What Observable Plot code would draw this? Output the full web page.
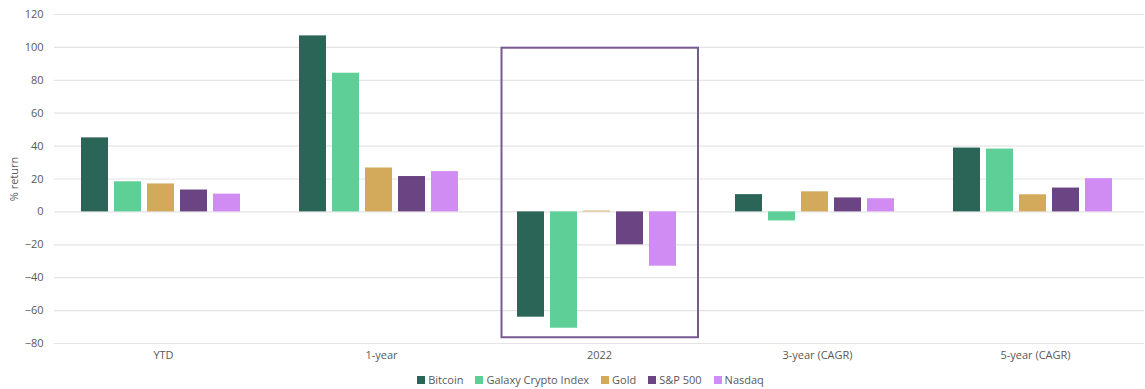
<!DOCTYPE html>
<html>
<head>
<meta charset="utf-8">
<script src="https://cdn.jsdelivr.net/npm/d3@7"></script>
<script src="https://cdn.jsdelivr.net/npm/@observablehq/plot@0.6"></script>
<style>
  html, body { margin: 0; padding: 0; background: #ffffff; }
  body { width: 1145px; height: 389px; overflow: hidden; font-family: "Open Sans", "Noto Sans", sans-serif; }
  #legend { display: flex; justify-content: center; gap: 12px; margin-left: 36px; margin-top: 7px;
            font-size: 11px; color: #595959; line-height: 14px; }
  #legend .item { display: flex; align-items: center; gap: 3px; }
  #legend .sw { width: 8px; height: 8px; display: inline-block; }
</style>
</head>
<body>
<div id="chart"></div>
<div id="legend"></div>
<script>
// Return periods and assets
const periods = ["YTD", "1-year", "2022", "3-year (CAGR)", "5-year (CAGR)"];
const assets = ["Bitcoin", "Galaxy Crypto Index", "Gold", "S&P 500", "Nasdaq"];
const colors = ["#2b6557", "#5dcf97", "#d3a95b", "#6a4483", "#d18cf3"];

// % return for each asset, one value per period
const bitcoin = [45, 107, -64, 10.5, 38.8];
const galaxy  = [18.3, 84.3, -70.7, -5.5, 38.2];
const gold    = [17, 26.7, 0.5, 12.2, 10.4];
const sp500   = [13.3, 21.5, -20, 8.5, 14.5];
const nasdaq  = [10.8, 24.5, -33, 8, 20.2];

// Highlighted period box (value range it spans)
const highlight = [{period: "2022", top: 99.5, bottom: -76.5}];

const yTicks = [-80, -60, -40, -20, 0, 20, 40, 60, 80, 100, 120];

const series = [bitcoin, galaxy, gold, sp500, nasdaq];
const rows = [];
periods.forEach((p, i) => {
  assets.forEach((a, j) => rows.push({period: p, asset: a, value: series[j][i]}));
});

const chart = Plot.plot({
  width: 1145,
  height: 366,
  marginTop: 14,
  marginBottom: 23,
  marginLeft: 54,
  marginRight: 1,
  style: {fontFamily: "'Open Sans', 'Noto Sans', sans-serif", fontSize: "11px", color: "#595959", background: "#ffffff"},
  fx: {domain: periods, padding: 0, label: null, axis: "bottom", tickSize: 0, tickPadding: 8},
  x: {domain: assets, paddingInner: 0.19, paddingOuter: 0.83, align: 0.45, axis: null},
  y: {domain: [-80, 120], ticks: yTicks, tickSize: 0, tickPadding: 11, label: "% return",
      labelAnchor: "center", labelArrow: "none", labelOffset: 44},
  color: {domain: assets, range: colors},
  marks: [
    Plot.gridY(yTicks, {stroke: "#e4e4e4", strokeOpacity: 1, strokeWidth: 1.2}),
    Plot.rect(highlight, {fx: "period", y1: "bottom", y2: "top", fill: "none",
      stroke: "#775a92", strokeWidth: 2, insetLeft: 11.5, insetRight: 10}),
    Plot.barY(rows, {fx: "period", x: "asset", y: "value", fill: "asset"})
  ]
});
document.getElementById("chart").appendChild(chart);

// Legend under the chart
const legend = d3.select("#legend");
assets.forEach((a, i) => {
  const item = legend.append("div").attr("class", "item");
  item.append("span").attr("class", "sw").style("background", colors[i]);
  item.append("span").text(a);
});
</script>
</body>
</html>
